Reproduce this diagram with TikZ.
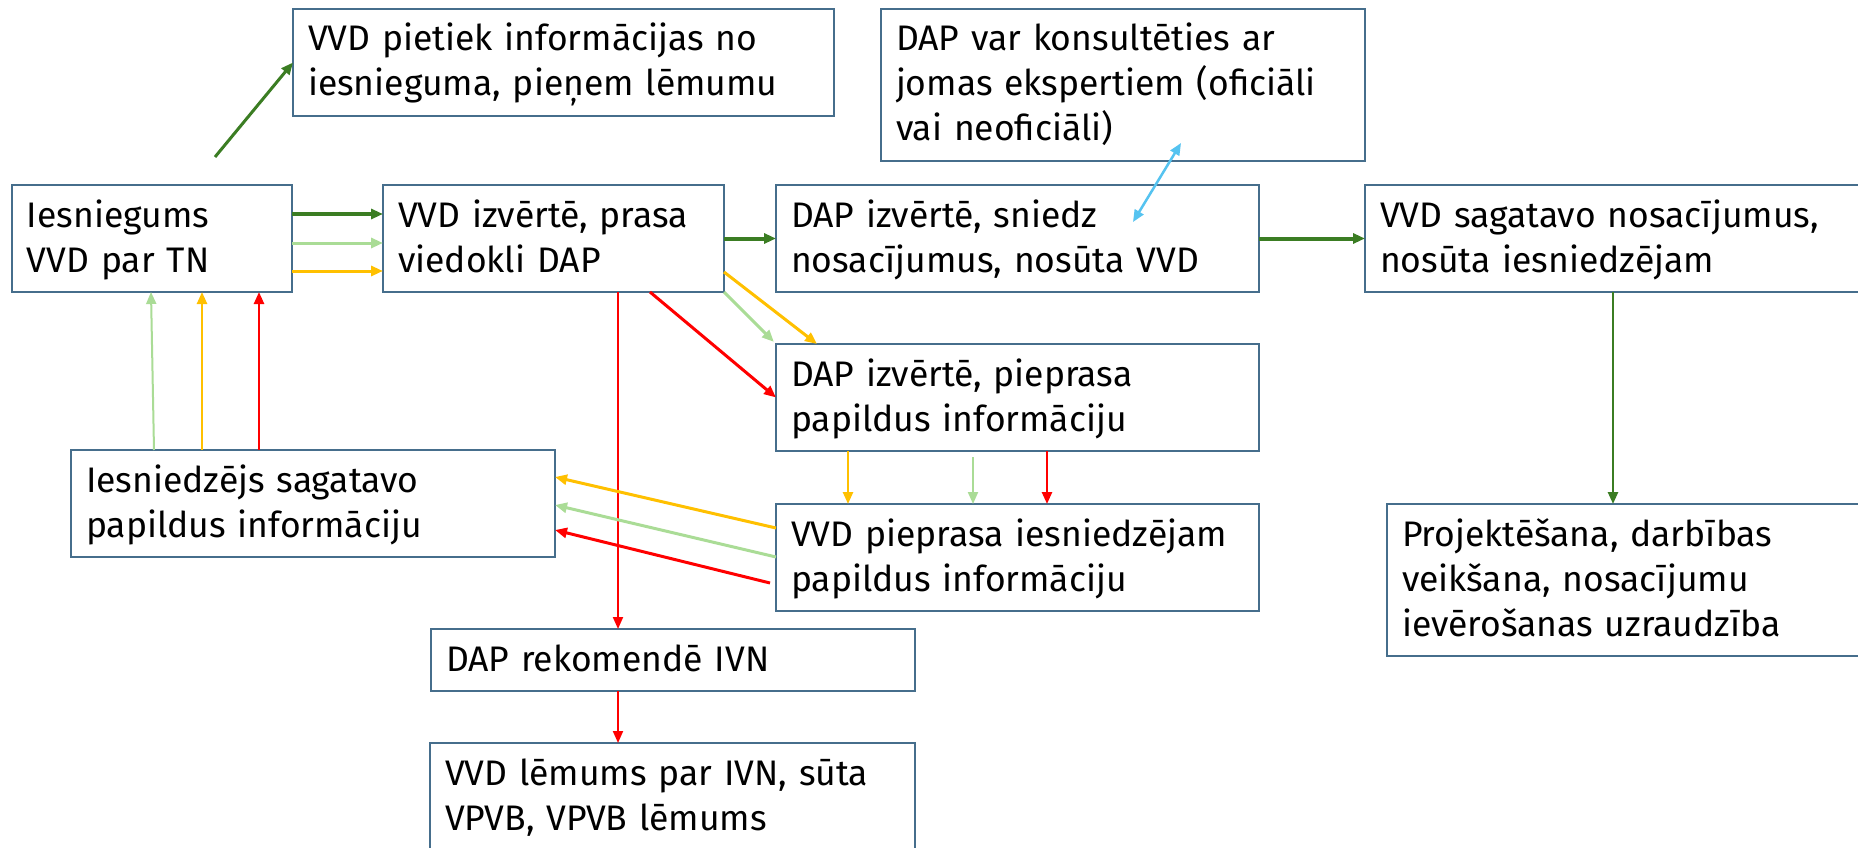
\documentclass[tikz,border=0pt]{standalone}
\usepackage{fontspec}
\setmainfont{Fira Sans}
\usetikzlibrary{arrows.meta,calc}
\definecolor{bordercol}{RGB}{70,110,140}
\definecolor{dgreen}{RGB}{59,125,35}
\definecolor{lgreen}{RGB}{170,220,150}
\definecolor{orng}{RGB}{255,192,0}
\definecolor{rd}{RGB}{255,0,0}
\definecolor{skyb}{RGB}{85,195,240}
\newcommand\topstrut{\rule{0pt}{38pt}}
\newcommand\botstrut{\rule[-16pt]{0pt}{16pt}}
\begin{document}
\begin{tikzpicture}[x=1pt,y=-1pt,
  box/.style={draw=bordercol, line width=1.8pt, rectangle, anchor=north west,
    inner xsep=15pt, inner ysep=4pt, outer sep=0pt, align=left,
    font=\fontsize{35.5}{45}\selectfont, text width=#1,
    execute at begin node={\noindent\topstrut},
    execute at end node={\botstrut}},
  ar/.style={-{Triangle[length=12pt,width=10pt]}, line width=#1},
  dar/.style={{Triangle[length=12pt,width=10pt]}-{Triangle[length=12pt,width=10pt]}, line width=#1},
  ]
\useasboundingbox (0,0) rectangle (1858,848);
\clip (0,0) rectangle (1858,848);
\fill[white] (0,0) rectangle (1858,848);

\node[box=511pt] (P1) at (293,9) {VVD pietiek informācijas no\\iesnieguma, pieņem lēmumu};
\node[box=454pt] (P2) at (881,9) {DAP var konsultēties ar\\jomas ekspertiem (oficiāli\\vai neoficiāli)};
\node[box=250pt] (A) at (12,185) {Iesniegums\\VVD par TN};
\node[box=311pt] (B) at (383,185) {VVD izvērtē, prasa\\viedokli DAP};
\node[box=453pt] (C) at (776,185) {DAP izvērtē, sniedz\\nosacījumus, nosūta VVD};
\node[box=485pt] (D) at (1365,185) {VVD sagatavo nosacījumus,\\nosūta iesniedzējam};
\node[box=453pt] (E) at (776,344) {DAP izvērtē, pieprasa\\papildus informāciju};
\node[box=454pt] (F) at (71,450) {Iesniedzējs sagatavo\\papildus informāciju};
\node[box=453pt] (G) at (776,504) {VVD pieprasa iesniedzējam\\papildus informāciju};
\node[box=454pt] (H) at (431,629) {DAP rekomendē IVN};
\node[box=455pt] (I) at (430,743) {VVD lēmums par IVN, sūta\\VPVB, VPVB lēmums};
\node[box=463pt] (J) at (1387,504) {Projektēšana, darbības\\veikšana, nosacījumu\\ievērošanas uzraudzība};

\coordinate (a0) at (215,157);
\coordinate (bl1) at (1133,222);
\coordinate (bl2) at (1181,143);

% A -> P1
\draw[ar=3pt, dgreen] (a0) -- (P1.west);
% A -> B
\draw[ar=3.5pt, dgreen] (A.east|-0,214) -- (B.west|-0,214);
\draw[ar=3pt, lgreen] (A.east|-0,243) -- (B.west|-0,243);
\draw[ar=3pt, orng] (A.east|-0,271) -- (B.west|-0,271);
% B -> C
\draw[ar=4pt, dgreen] (B.east) -- (C.west);
% B -> E
\draw[ar=3pt, orng] (B.east|-0,272) -- (E.north-|817,0);
\draw[ar=3pt, lgreen, shorten >=3pt] (B.south east) -- (E.north west);
\draw[ar=3pt, rd] (B.south-|650,0) -- (E.west);
% B -> H -> I
\draw[ar=2pt, rd] (B.south-|618,0) -- (H.north-|618,0);
\draw[ar=2pt, rd] (H.south-|618,0) -- (I.north-|618,0);
% E -> G
\draw[ar=2.5pt, orng] (E.south-|848,0) -- (G.north-|848,0);
\draw[ar=2pt, lgreen, shorten <=6pt] (E.south-|973,0) -- (G.north-|973,0);
\draw[ar=2.5pt, rd] (E.south-|1047,0) -- (G.north-|1047,0);
% G -> F
\draw[ar=3pt, orng] (G.west|-0,528) -- (F.east|-0,477);
\draw[ar=3pt, lgreen] (G.west|-0,557) -- (F.east|-0,505);
\draw[ar=3pt, rd] (770,583) -- (F.east|-0,530);
% F -> A
\draw[ar=2pt, lgreen] (F.north-|154,0) -- (A.south-|151,0);
\draw[ar=2.5pt, orng] (F.north-|202,0) -- (A.south-|202,0);
\draw[ar=2.5pt, rd] (F.north-|259,0) -- (A.south-|259,0);
% C <-> P2
\draw[dar=2.5pt, skyb] (bl1) -- (bl2);
% C -> D -> J
\draw[ar=4pt, dgreen] (C.east) -- (D.west);
\draw[ar=2.5pt, dgreen] (D.south-|1613,0) -- (J.north-|1613,0);
\end{tikzpicture}
\end{document}
